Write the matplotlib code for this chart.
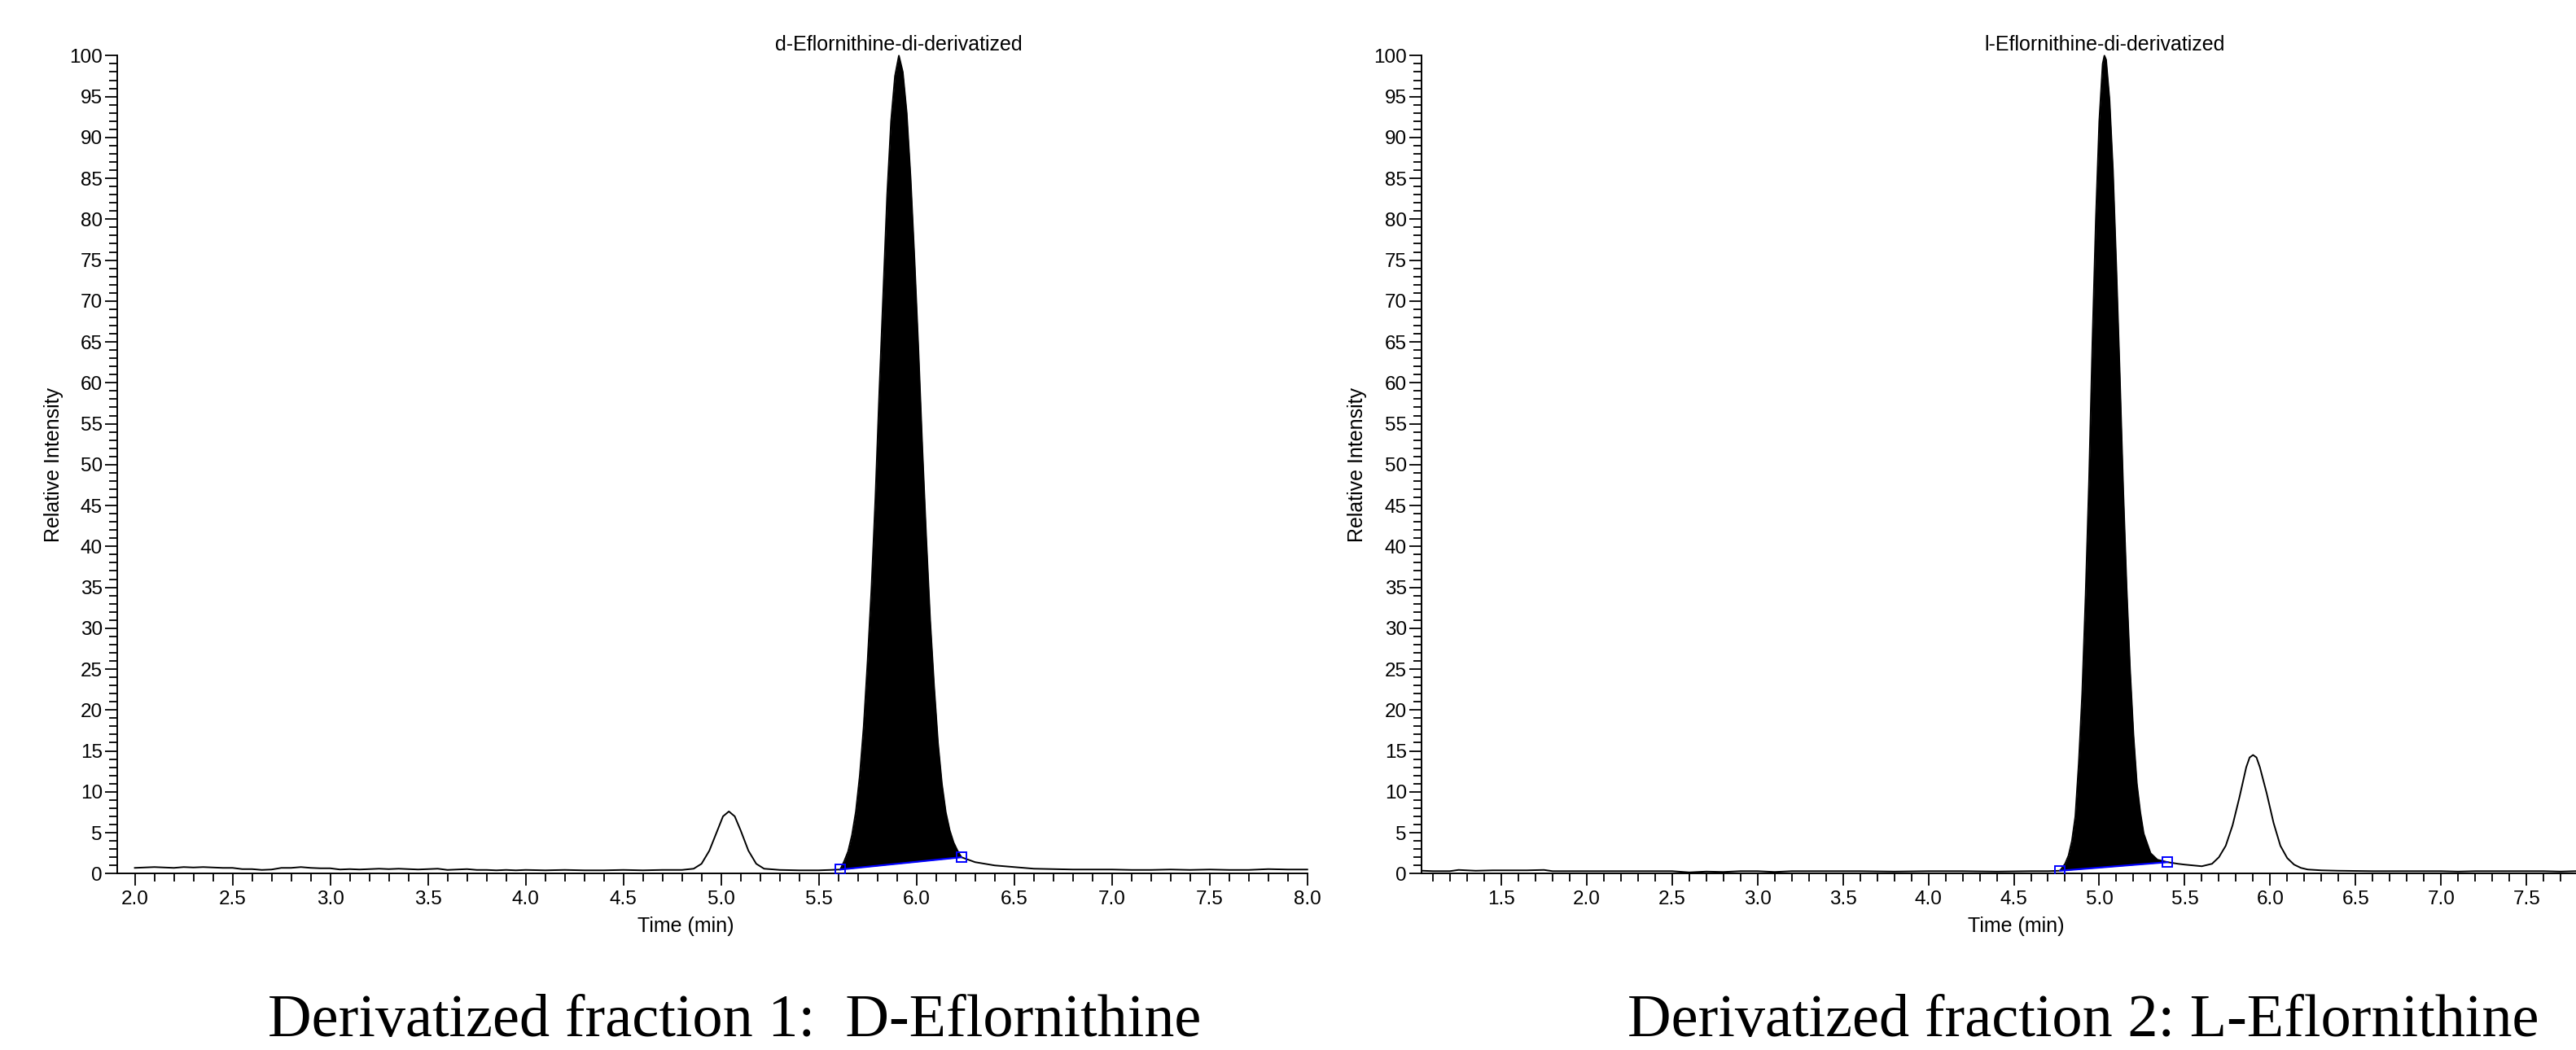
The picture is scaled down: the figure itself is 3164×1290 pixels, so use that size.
import numpy as np
import matplotlib
matplotlib.use('Agg')
import matplotlib.pyplot as plt
from matplotlib.ticker import MultipleLocator, FormatStrFormatter

# fraction 1 (D) chromatogram
d_time = [2.00, 2.05, 2.10, 2.15, 2.20, 2.25, 2.30, 2.35, 2.40, 2.45,
          2.50, 2.55, 2.60, 2.65, 2.70, 2.75, 2.80, 2.85, 2.90, 2.95,
          3.00, 3.05, 3.10, 3.15, 3.20, 3.25, 3.30, 3.35, 3.40, 3.45,
          3.50, 3.55, 3.60, 3.65, 3.70, 3.75, 3.80, 3.85, 3.90, 3.95,
          4.00, 4.10, 4.20, 4.30, 4.40, 4.50, 4.60, 4.70, 4.80,
          4.86, 4.90, 4.94, 4.98, 5.01, 5.04, 5.07, 5.10, 5.14, 5.18, 5.22,
          5.30, 5.40, 5.50, 5.56, 5.61,
          5.63, 5.65, 5.67, 5.69, 5.71, 5.73, 5.75, 5.77, 5.79, 5.81,
          5.83, 5.85, 5.87, 5.89, 5.91, 5.93, 5.95, 5.97, 5.99, 6.01,
          6.03, 6.05, 6.07, 6.09, 6.11, 6.13, 6.15, 6.17, 6.19, 6.21,
          6.23, 6.30, 6.40,
          6.50, 6.60, 6.70, 6.80, 6.90, 7.00, 7.10, 7.20, 7.30, 7.40,
          7.50, 7.60, 7.70, 7.80, 7.90, 8.00]
d_int = [0.70, 0.75, 0.80, 0.75, 0.70, 0.80, 0.75, 0.80, 0.75, 0.70,
         0.70, 0.55, 0.55, 0.45, 0.50, 0.70, 0.70, 0.80, 0.70, 0.65,
         0.65, 0.50, 0.55, 0.50, 0.55, 0.60, 0.55, 0.60, 0.55, 0.50,
         0.55, 0.60, 0.45, 0.50, 0.55, 0.45, 0.45, 0.40, 0.45, 0.40,
         0.45, 0.40, 0.45, 0.40, 0.40, 0.45, 0.40, 0.45, 0.45,
         0.60, 1.20, 2.80, 5.20, 7.00, 7.60, 7.00, 5.30, 2.80, 1.20, 0.60,
         0.45, 0.40, 0.40, 0.45, 0.50,
         1.50, 2.70, 4.70, 7.60, 12.0, 18.0, 26.0, 35.0, 46.0, 59.0,
         71.0, 83.0, 92.0, 97.5, 100.0, 98.0, 93.0, 85.0, 75.0, 64.0,
         52.0, 41.0, 31.0, 23.0, 16.0, 11.0, 7.50, 5.30, 3.80, 2.80,
         2.00, 1.40, 1.00,
         0.80, 0.60, 0.55, 0.50, 0.50, 0.50, 0.45, 0.45, 0.50, 0.45,
         0.50, 0.45, 0.45, 0.55, 0.50, 0.50]
d_name = 'd-Eflornithine-di-derivatized'
d_base_t = [5.61, 6.23]
d_base_y = [0.50, 2.00]

# fraction 2 (L) chromatogram
l_time = [1.04, 1.10, 1.20, 1.25, 1.30, 1.35, 1.45, 1.55, 1.65, 1.75,
          1.80, 2.00, 2.20, 2.40, 2.50, 2.60, 2.70, 2.80, 2.90, 3.00,
          3.10, 3.20, 3.40, 3.60, 3.80, 4.00, 4.20, 4.40, 4.60, 4.70,
          4.77, 4.80, 4.82, 4.84, 4.86, 4.88, 4.90, 4.92, 4.94, 4.96,
          4.98, 5.00, 5.02, 5.03, 5.04, 5.06, 5.08, 5.10, 5.12, 5.14,
          5.16, 5.18, 5.20, 5.22, 5.24, 5.26, 5.30, 5.34, 5.40,
          5.46, 5.50, 5.55, 5.60, 5.66, 5.70, 5.74, 5.78, 5.82, 5.86,
          5.88, 5.90, 5.92, 5.94, 5.98, 6.02, 6.06, 6.10, 6.14, 6.18,
          6.22, 6.30, 6.40, 6.60, 6.80, 7.00, 7.10, 7.20, 7.40, 7.60,
          7.70, 7.79]
l_int = [0.35, 0.30, 0.30, 0.45, 0.40, 0.35, 0.40, 0.40, 0.40, 0.45,
         0.30, 0.30, 0.30, 0.30, 0.30, 0.15, 0.25, 0.20, 0.30, 0.30,
         0.20, 0.30, 0.30, 0.30, 0.25, 0.30, 0.30, 0.25, 0.30, 0.30,
         0.35, 1.20, 2.20, 4.00, 7.00, 13.5, 22.0, 34.0, 48.0, 65.0,
         80.0, 92.0, 99.0, 100.0, 99.5, 94.6, 86.0, 74.0, 61.0, 47.0,
         35.0, 25.0, 17.0, 11.0, 7.50, 4.90, 2.50, 1.70, 1.40,
         1.20, 1.10, 1.00, 0.90, 1.20, 2.00, 3.40, 5.90, 9.30, 13.0,
         14.2, 14.5, 14.2, 13.0, 9.80, 6.20, 3.40, 1.90, 1.10, 0.70,
         0.50, 0.40, 0.35, 0.30, 0.30, 0.30, 0.25, 0.30, 0.30, 0.30,
         0.25, 0.30]
l_name = 'l-Eflornithine-di-derivatized'
l_base_t = [4.77, 5.40]
l_base_y = [0.35, 1.40]

captions = ['Derivatized fraction 1:  D-Eflornithine',
            'Derivatized fraction 2: L-Eflornithine']

plt.rcParams['font.family'] = 'Liberation Sans'

fig = plt.figure(figsize=(31.64, 12.9), dpi=100)
ax1 = fig.add_axes([0.0455, 0.168, 0.462, 0.779])
ax2 = fig.add_axes([0.5518, 0.168, 0.4482, 0.779])


def chromatogram(ax, t, y, bt, by, name, xlo, xhi, xlab_x, ylab_x):
    t = np.array(t)
    y = np.array(y)
    ax.plot(t, y, color='black', lw=1.4, clip_on=False, zorder=3)

    # integrated area between the drawn baseline and the trace
    m = (t > bt[0]) & (t < bt[1])
    tt = np.concatenate([[bt[0]], t[m], [bt[1]]])
    yy = np.interp(tt, t, y)
    base = np.interp(tt, bt, by)
    ax.fill_between(tt, base, yy, color='black', lw=0, clip_on=False, zorder=2)
    ax.plot(bt, by, color='blue', lw=1.6, zorder=4)
    ax.plot(bt, by, 's', mfc='none', mec='blue', ms=8, mew=1.4, zorder=5)

    apex = t[np.argmax(y)]
    ax.annotate(name, (apex, y.max()), xytext=(0, 4.5), textcoords='offset points',
                ha='center', va='baseline', fontsize=18)

    ax.set_xlim(xlo, xhi)
    ax.set_ylim(0, 100)
    ax.spines['top'].set_visible(False)
    ax.spines['right'].set_visible(False)
    ax.spines['left'].set_linewidth(1.4)
    ax.spines['bottom'].set_linewidth(1.4)
    ax.xaxis.set_major_locator(MultipleLocator(0.5))
    ax.xaxis.set_minor_locator(MultipleLocator(0.1))
    ax.xaxis.set_major_formatter(FormatStrFormatter('%.1f'))
    ax.yaxis.set_major_locator(MultipleLocator(5))
    ax.yaxis.set_minor_locator(MultipleLocator(1))
    ax.tick_params(which='major', direction='out', length=11, width=1.3,
                   labelsize=17.5, pad=2)
    ax.tick_params(which='minor', direction='out', length=7, width=1.3)
    ax.tick_params(axis='x', which='major', pad=4)

    ax.set_xlabel('Time (min)', fontsize=18)
    ax.xaxis.set_label_coords(xlab_x, -0.052)
    ax.set_ylabel('Relative Intensity', fontsize=18)
    ax.yaxis.set_label_coords(ylab_x, 0.5)


chromatogram(ax1, d_time, d_int, d_base_t, d_base_y, d_name, 1.91, 8.0, 0.478, -0.045)
chromatogram(ax2, l_time, l_int, l_base_t, l_base_y, l_name, 1.033, 7.79, 0.515, -0.047)

fig.text(902 / 3164, 0.013, captions[0], ha='center', va='baseline',
         fontsize=53.5, family='Liberation Serif')
fig.text(2559 / 3164, 0.013, captions[1], ha='center', va='baseline',
         fontsize=53.5, family='Liberation Serif')

fig.savefig('out.png', dpi=100)
